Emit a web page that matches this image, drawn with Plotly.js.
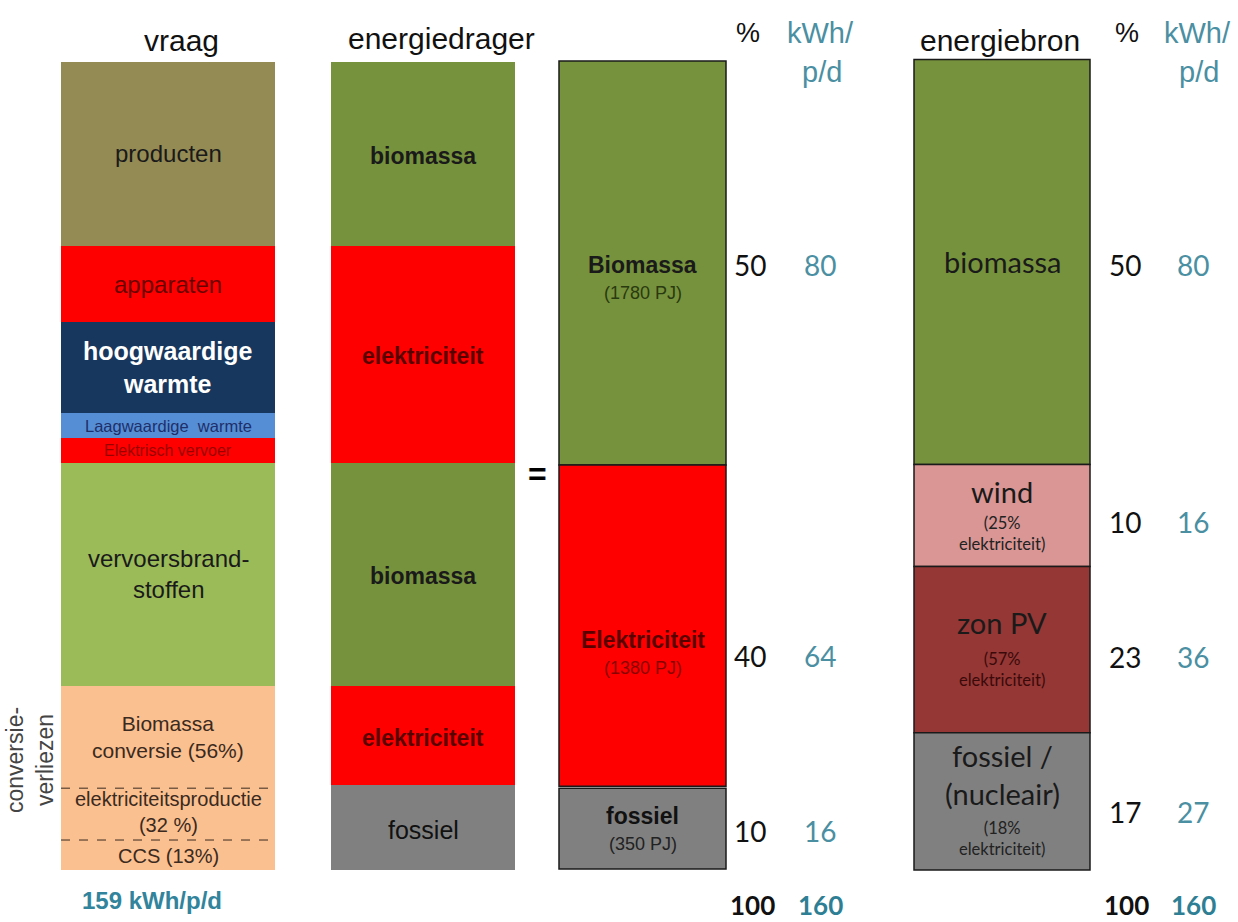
<!DOCTYPE html>
<html><head><meta charset="utf-8">
<script src="https://cdn.plot.ly/plotly-3.0.1.min.js"></script>
<style>html,body{margin:0;padding:0;background:#fff}#chart{width:1238px;height:922px}</style>
</head><body><div id="chart"></div>
<script>
// ---------- data (kWh per person per day, stacked top to bottom) ----------
const columnTitles = ['vraag', 'energiedrager', 'energiebron'];

const vraagCategories = ['producten', 'apparaten', 'hoogwaardige<br>warmte', 'Laagwaardige  warmte', 'Elektrisch vervoer',
  'vervoersbrand-<br>stoffen', 'Biomassa<br>conversie (56%)', 'elektriciteitsproductie<br>(32 %)', 'CCS (13%)'];
const vraagValues = [36.2, 15.0, 17.9, 4.9, 4.9, 43.9, 20.1, 10.2, 5.9];
const vraagTotalLabel = '159 kWh/p/d';
const lossesLabel = 'conversie-<br>verliezen';

const dragerCategories = ['biomassa', 'elektriciteit', 'biomassa', 'elektriciteit', 'fossiel'];
const dragerValues = [36.2, 42.7, 43.9, 19.5, 16.7];

const carrierCategories = ['Biomassa', 'Elektriciteit', 'fossiel'];
const carrierPJ = ['(1780 PJ)', '(1380 PJ)', '(350 PJ)'];
const carrierValues = [79.5, 63.2, 15.9];
const carrierPct = [50, 40, 10];
const carrierKwh = [80, 64, 16];

const bronCategories = ['biomassa', 'wind', 'zon PV', 'fossiel /<br>(nucleair)'];
const bronNotes = ['', '(25%<br>elektriciteit)', '(57%<br>elektriciteit)', '(18%<br>elektriciteit)'];
const bronValues = [79.7, 20.1, 32.7, 27.0];
const bronPct = [50, 10, 23, 17];
const bronKwh = [80, 16, 36, 27];

const totalPct = 100;
const totalKwh = 160;

// ---------- styling / geometry ----------
const W = 1238, H = 922;
const baseline = 870;           // pixel row of value 0
const k = 808 / 159;            // pixels per kWh/p/d
const yMin = -(H - baseline) / k, yMax = baseline / k;
const px = v => baseline - v * k;
const paperY = p => 1 - p / H;

const teal = '#4a8fa2';
const tealBold = '#2f7f94';
const SANS = 'Liberation Sans, Arial, sans-serif';
const CAL = 'Lato, Open Sans, sans-serif';

function stack(values, bottom, gaps) {
  const n = values.length, bases = new Array(n);
  let b = bottom;
  for (let i = n - 1; i >= 0; i--) { bases[i] = b; b += values[i] + (gaps ? gaps[i] : 0); }
  return bases;
}
function column(values, bases, colors, x0, x1, lineW) {
  return {
    type: 'bar', x: values.map(() => (x0 + x1) / 2), y: values, base: bases,
    width: values.map(() => x1 - x0),
    marker: { color: colors, line: { color: '#1a1a1a', width: lineW } },
    hoverinfo: 'skip', showlegend: false
  };
}

const colV = [61, 275], colD = [331, 515], colC = [559, 726], colB = [914, 1090];

const vraagBases = stack(vraagValues, 0);
const dragerBases = stack(dragerValues, 0);
const carrierBases = stack(carrierValues, 0.2, [0, 0, 0.4]);
const bronBases = stack(bronValues, 0);

const vraagColors = ['#948A54', '#FF0000', '#17375E', '#558ED5', '#FF0000', '#9BBB59', '#FAC090', '#FAC090', '#FAC090'];
const dragerColors = ['#76923C', '#FF0000', '#76923C', '#FF0000', '#808080'];
const carrierColors = ['#76923C', '#FF0000', '#808080'];
const bronColors = ['#76923C', '#D99694', '#953735', '#808080'];

const traces = [
  column(vraagValues, vraagBases, vraagColors, colV[0], colV[1], 0),
  column(dragerValues, dragerBases, dragerColors, colD[0], colD[1], 0),
  column(carrierValues, carrierBases, carrierColors, colC[0], colC[1], 1.5),
  column(bronValues, bronBases, bronColors, colB[0], colB[1], 1.5)
];

const ann = [];
function A(text, x, ypix, size, color, family, extra) {
  ann.push(Object.assign({ text: text, x: x, xref: 'x', y: paperY(ypix), yref: 'paper',
    xanchor: 'center', yanchor: 'middle', showarrow: false,
    font: { size: size, color: color, family: family || SANS } }, extra || {}));
}
const mid = (bases, values, i) => px(bases[i] + values[i] / 2);

// titles
A(columnTitles[0], 181, 40, 30, '#111');
A(columnTitles[1], 441, 38, 30, '#111');
A(columnTitles[2], 1000, 40, 30, '#111');
// unit headers
[[748, 820], [1127, 1197]].forEach(([xp, xk]) => {
  A('%', xp, 33, 27, '#111');
  A('kWh/', xk, 33, 29, teal);
  A('p/d', xk + 2, 72, 29, teal);
});

// vraag labels
const vSize = [24, 24, 25, 16.5, 16, 24, 21, 20, 20];
const vShift = [0, 0, 0, 0, 0, 0, 0, -2, 1];
const vCol = ['#1a1a1a', '#6a0000', '#ffffff', '#1f2f6a', '#9a0000', '#1a1a1a', '#3a2a20', '#3a2a20', '#3a2a20'];
vraagCategories.forEach((c, i) => {
  A(i === 2 ? '<b>' + c + '</b>' : c, (colV[0] + colV[1]) / 2, mid(vraagBases, vraagValues, i) + vShift[i], vSize[i], vCol[i]);
});
A('<b>' + vraagTotalLabel + '</b>', 152, 900, 24, '#31849B');
A(lossesLabel, 30, 760, 23, '#444', SANS, { textangle: -90 });

// drager labels
const dCol = ['#1a1a1a', '#5a0000', '#1a1a1a', '#5a0000', '#111'];
dragerCategories.forEach((c, i) => {
  A(i < 4 ? '<b>' + c + '</b>' : c, (colD[0] + colD[1]) / 2, mid(dragerBases, dragerValues, i) + 2, i < 4 ? 23 : 25, dCol[i]);
});

A('<b>=</b>', 537, 474, 32, '#000');

// carrier labels + numbers
const cNameShift = [2, 14, -13];
const cCol = ['#1a1a1a', '#5a0000', '#111'];
const cNoteCol = ['#2a3a10', '#8a0000', '#222'];
const cNumShift = [2, 30, 2];
carrierCategories.forEach((c, i) => {
  const m = mid(carrierBases, carrierValues, i);
  const cx = (colC[0] + colC[1]) / 2;
  A('<b>' + c + '</b>', cx, m + cNameShift[i], 23, cCol[i]);
  A(carrierPJ[i], cx, m + cNameShift[i] + 28, 18, cNoteCol[i]);
  A(String(carrierPct[i]), 750, m + cNumShift[i], 28, '#111', CAL);
  A(String(carrierKwh[i]), 820, m + cNumShift[i], 28, teal, CAL);
});

// bron labels + numbers
const bNameShift = [0, -24, -27, -27];
const bNoteShift = [0, 18, 20, 37];
const bNumShift = [3, 6, 7, 11];
bronCategories.forEach((c, i) => {
  const m = mid(bronBases, bronValues, i);
  const cx = (colB[0] + colB[1]) / 2;
  A(c, cx, m + bNameShift[i], 29, '#1a1a1a', CAL);
  if (bronNotes[i]) A(bronNotes[i], cx, m + bNoteShift[i], 16.5, i === 2 ? '#3a0a0a' : '#222', CAL);
  A(String(bronPct[i]), 1125, m + bNumShift[i], 28, '#111', CAL);
  A(String(bronKwh[i]), 1193, m + bNumShift[i], 28, teal, CAL);
});

// totals
[[752, 820], [1126, 1193]].forEach(([xp, xk]) => {
  A('<b>' + totalPct + '</b>', xp, 905, 26, '#111', CAL);
  A('<b>' + totalKwh + '</b>', xk, 905, 26, tealBold, CAL);
});

// dashed separators within conversion losses
const shapes = [vraagBases[6], vraagBases[7]].map(b => ({
  type: 'line', xref: 'x', yref: 'y', x0: colV[0], x1: colV[1], y0: b, y1: b,
  line: { color: '#3a2a20', width: 1, dash: 'dash' }
}));

const layout = {
  width: W, height: H, margin: { l: 0, r: 0, t: 0, b: 0 },
  paper_bgcolor: '#fff', plot_bgcolor: '#fff',
  barmode: 'overlay', bargap: 0,
  xaxis: { range: [0, W], visible: false, fixedrange: true },
  yaxis: { range: [yMin, yMax], visible: false, fixedrange: true },
  annotations: ann, shapes: shapes, showlegend: false
};
Plotly.newPlot('chart', traces, layout, { displayModeBar: false, staticPlot: true });
</script></body></html>
